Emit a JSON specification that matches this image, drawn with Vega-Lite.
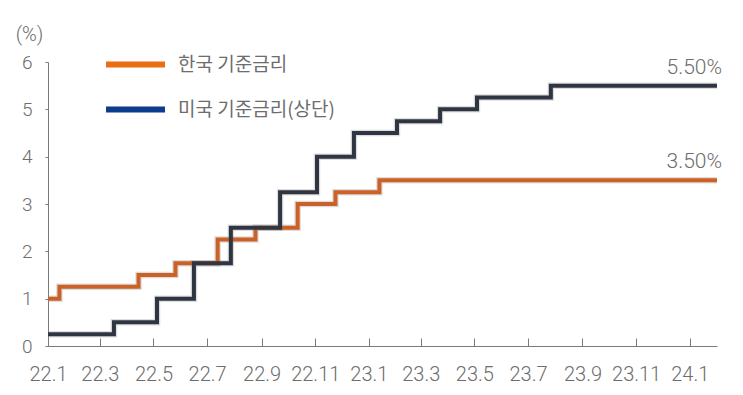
{
  "$schema": "https://vega.github.io/schema/vega-lite/v6.json",
  "width": 669,
  "height": 284,
  "autosize": {"type": "none"},
  "padding": {"left": 48, "top": 62, "right": 26, "bottom": 49},
  "background": "white",
  "config": {"view": {"stroke": null}, "font": "Roboto"},
  "datasets": {
    "rates": [
      {"series": "한국 기준금리", "date": "2022-01-01", "value": 1.0},
      {"series": "한국 기준금리", "date": "2022-01-14", "value": 1.25},
      {"series": "한국 기준금리", "date": "2022-04-14", "value": 1.5},
      {"series": "한국 기준금리", "date": "2022-05-26", "value": 1.75},
      {"series": "한국 기준금리", "date": "2022-07-13", "value": 2.25},
      {"series": "한국 기준금리", "date": "2022-08-25", "value": 2.5},
      {"series": "한국 기준금리", "date": "2022-10-12", "value": 3.0},
      {"series": "한국 기준금리", "date": "2022-11-24", "value": 3.25},
      {"series": "한국 기준금리", "date": "2023-01-13", "value": 3.5},
      {"series": "한국 기준금리", "date": "2024-02-01", "value": 3.5},
      {"series": "미국 기준금리(상단)", "date": "2022-01-01", "value": 0.25},
      {"series": "미국 기준금리(상단)", "date": "2022-03-17", "value": 0.5},
      {"series": "미국 기준금리(상단)", "date": "2022-05-05", "value": 1.0},
      {"series": "미국 기준금리(상단)", "date": "2022-06-16", "value": 1.75},
      {"series": "미국 기준금리(상단)", "date": "2022-07-28", "value": 2.5},
      {"series": "미국 기준금리(상단)", "date": "2022-09-22", "value": 3.25},
      {"series": "미국 기준금리(상단)", "date": "2022-11-03", "value": 4.0},
      {"series": "미국 기준금리(상단)", "date": "2022-12-15", "value": 4.5},
      {"series": "미국 기준금리(상단)", "date": "2023-02-02", "value": 4.75},
      {"series": "미국 기준금리(상단)", "date": "2023-03-23", "value": 5.0},
      {"series": "미국 기준금리(상단)", "date": "2023-05-04", "value": 5.25},
      {"series": "미국 기준금리(상단)", "date": "2023-07-27", "value": 5.5},
      {"series": "미국 기준금리(상단)", "date": "2024-02-01", "value": 5.5}
    ],
    "labels": [
      {"date": "2024-02-01", "value": 5.5, "label": "5.50%"},
      {"date": "2024-02-01", "value": 3.5, "label": "3.50%"}
    ]
  },
  "encoding": {
    "x": {
      "field": "date",
      "type": "temporal",
      "scale": {
        "type": "utc",
        "domain": [
          {"year": 2022, "month": 1, "date": 1, "utc": true},
          {"year": 2024, "month": 2, "date": 1, "utc": true}
        ]
      },
      "axis": {
        "title": null,
        "format": "%y.%-m",
        "tickCount": {"interval": "month", "step": 2},
        "tickSize": -8,
        "labelPadding": 26,
        "labelFontSize": 20,
        "labelFont": "Roboto",
        "labelFontWeight": 300,
        "labelColor": "#6d6d6d",
        "labelFlush": false,
        "labelOverlap": false,
        "domainColor": "#7a7a7a",
        "tickColor": "#7a7a7a",
        "grid": false
      }
    },
    "y": {
      "field": "value",
      "type": "quantitative",
      "scale": {"domain": [0, 6], "nice": false},
      "axis": {
        "title": "(%)",
        "titleAngle": 0,
        "titleX": -19,
        "titleY": -22,
        "titleAlign": "center",
        "titleBaseline": "alphabetic",
        "titleFont": "Roboto",
        "titleFontSize": 20,
        "titleFontWeight": 300,
        "titleColor": "#6d6d6d",
        "values": [0, 1, 2, 3, 4, 5, 6],
        "tickSize": 3,
        "labelPadding": 13,
        "labelFontSize": 19,
        "labelFont": "Roboto",
        "labelFontWeight": 300,
        "labelColor": "#6d6d6d",
        "domainColor": "#7a7a7a",
        "tickColor": "#7a7a7a",
        "grid": false
      }
    }
  },
  "layer": [
    {
      "data": {"name": "rates"},
      "mark": {"type": "line", "interpolate": "step-after", "strokeWidth": 0.1, "opacity": 0},
      "encoding": {
        "color": {
          "field": "series",
          "type": "nominal",
          "scale": {"domain": ["한국 기준금리", "미국 기준금리(상단)"], "range": ["#ea6e12", "#0d3c8e"]},
          "legend": {
            "title": null,
            "orient": "none",
            "legendX": 55,
            "legendY": -30,
            "symbolType": "stroke",
            "symbolSize": 3481,
            "symbolStrokeWidth": 6,
            "symbolOpacity": 1,
            "rowPadding": -23,
            "labelOffset": 10,
            "labelFont": "Noto Sans CJK KR",
            "labelFontSize": 19,
            "labelColor": "#6d6d6d"
          }
        }
      }
    },
    {
      "data": {"name": "rates"},
      "mark": {"type": "line", "interpolate": "step-after", "strokeWidth": 6.5, "color": "#8f8f8f", "opacity": 0.3},
      "encoding": {"detail": {"field": "series", "type": "nominal"}}
    },
    {
      "data": {"name": "rates"},
      "mark": {"type": "line", "interpolate": "step-after", "strokeWidth": 4},
      "encoding": {
        "stroke": {
          "field": "series",
          "type": "nominal",
          "scale": {"domain": ["한국 기준금리", "미국 기준금리(상단)"], "range": ["#cc6128", "#2f3541"]},
          "legend": null
        }
      }
    },
    {
      "data": {"name": "labels"},
      "mark": {"type": "text", "align": "right", "baseline": "alphabetic", "dx": 5, "dy": -12, "fontSize": 21, "font": "Roboto", "fontWeight": 300, "color": "#6d6d6d"},
      "encoding": {"text": {"field": "label", "type": "nominal"}}
    }
  ]
}
